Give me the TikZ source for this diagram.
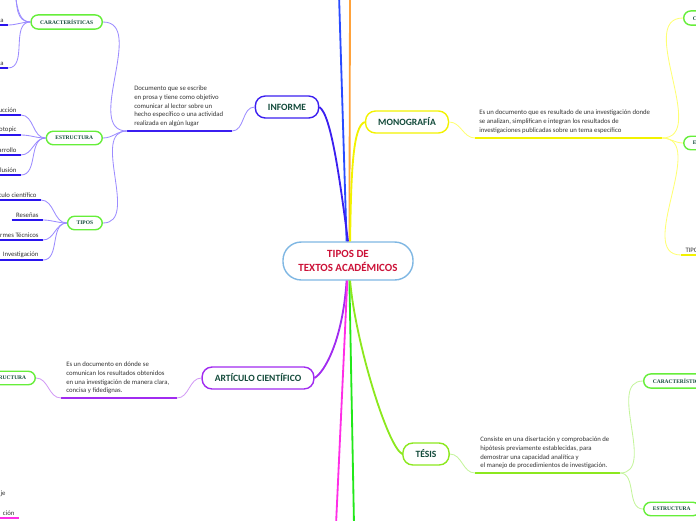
\documentclass[tikz,border=0pt]{standalone}
\usepackage{fontspec}
\setmainfont{Carlito}
\newfontfamily\subfont{Liberation Serif}
\usetikzlibrary{positioning}
\definecolor{infc}{HTML}{3B1FF0}
\definecolor{infl}{HTML}{9C8CFF}
\definecolor{leafc}{HTML}{2A14EE}
\definecolor{monoc}{HTML}{F2F200}
\definecolor{monol}{HTML}{FFFF73}
\definecolor{artc}{HTML}{A12BF0}
\definecolor{artl}{HTML}{D39CF5}
\definecolor{tesc}{HTML}{8CE81E}
\definecolor{tesl}{HTML}{C4F49C}
\definecolor{bluec}{HTML}{2A4BFF}
\definecolor{orac}{HTML}{FFA23A}
\definecolor{magc}{HTML}{FF2EE6}
\definecolor{grnc}{HTML}{22E81A}
\definecolor{subc}{HTML}{66EE3A}
\definecolor{rootc}{HTML}{7FB7E3}
\definecolor{roott}{HTML}{CC1238}
\definecolor{headt}{HTML}{124A3A}
\definecolor{bodyt}{HTML}{333333}

\begin{document}
\begin{tikzpicture}[x=0.025cm,y=-0.025cm,
  root/.style={draw=rootc,line width=1pt,fill=white,rounded corners=13pt,align=center,
    text=roott,font=\fontsize{7.8}{10}\selectfont\bfseries,inner xsep=11pt,minimum height=27pt},
  head/.style={draw=#1,line width=1pt,fill=white,rounded corners=7pt,text=headt,
    font=\fontsize{6.8}{8}\selectfont\bfseries,inner xsep=9pt,minimum height=15.6pt},
  sub/.style={draw=subc,line width=1pt,fill=white,rounded corners=5pt,text=headt,
    font=\subfont\bfseries\fontsize{3.9}{5}\selectfont,inner xsep=6.5pt,minimum height=9.6pt},
  desc/.style={anchor=north west,inner sep=0pt,align=left,text=bodyt,
    font=\fontsize{4.8}{6.1}\selectfont},
  leaf/.style={anchor=south east,inner xsep=3pt,inner ysep=1.5pt,text=bodyt,
    font=\fontsize{4.8}{6}\selectfont},
  ul/.style={line width=1.6pt,color=#1},
  br/.style={line width=1.3pt,color=#1},
  tw/.style={line width=0.6pt,color=#1}]
  \useasboundingbox (0,0) rectangle (696,520);
  \clip (0,0) rectangle (696,520);

  \node[root] (root) at (348,261) {TIPOS DE\\TEXTOS ACADÉMICOS};
  \node[head=infc] (inf) at (287,107) {INFORME};
  \node[head=monoc] (mono) at (407,122) {MONOGRAFÍA};
  \node[head=artc] (art) at (258,378) {ARTÍCULO CIENTÍFICO};
  \node[head=tesc] (tes) at (426,454) {TÉSIS};

  \coordinate (upb) at (339,-5);
  \coordinate (upo) at (350,-5);
  \coordinate (dnm) at (336,525);
  \coordinate (dng) at (354,525);
  \draw[br=bluec] ([xshift=-1pt]root.north) -- (upb);
  \draw[br=orac] ([xshift=1pt]root.north) -- (upo);
  \draw[br=infc] (root.north) .. controls +(-8,-60) and +(12,8) .. (inf.east);
  \draw[br=monoc] ([xshift=1.5pt]root.north) .. controls +(1,-70) and +(-12,4) .. (mono.west);
  \draw[br=artc] ([xshift=-1pt]root.south) .. controls +(-4,60) and +(10,-6) .. (art.east);
  \draw[br=magc] ([xshift=-0.5pt]root.south) -- (dnm);
  \draw[br=grnc] ([xshift=1pt]root.south) -- (dng);
  \draw[br=tesc] ([xshift=1.5pt]root.south) .. controls +(5,60) and +(-15,-8) .. (tes.west);

  \node[desc] (infd) at (134,86) {Documento que se escribe\\en prosa y tiene como objetivo\\comunicar al lector sobre un\\hecho específico o una actividad\\realizada en algún lugar};
  \coordinate (infa) at (127,131);
  \coordinate (infb) at (232,131);
  \draw[ul=infc] (infa) -- (infb);
  \draw[tw=infl] (infb) to[out=0,in=180] (inf.west);
  \node[sub,anchor=east] (icar) at (103,22) {CARACTERÍSTICAS};
  \node[sub,anchor=east] (iest) at (103,138) {ESTRUCTURA};
  \node[sub,anchor=east] (itip) at (103,223) {TIPOS};
  \foreach \n in {icar,iest,itip}
    \draw[tw=infl] (infa) to[out=180,in=0] (\n.east);

  \coordinate (ic1) at (2,-20);
  \coordinate (ic2) at (2,-45);
  \draw[tw=infl] (icar.west) to[out=180,in=0] (ic1);
  \draw[tw=infl] (icar.west) to[out=180,in=0] (ic2);
  \foreach \y [count=\i from 3] in {25,68} {
    \node[leaf] (ic\i) at (8,\y) {a};
    \draw[ul=leafc] (ic\i.south west) -- (ic\i.south east);
    \draw[tw=infl] (icar.west) to[out=180,in=0] (ic\i.south east);
  }
  \foreach \t/\y [count=\i] in {Introducción/115,otopic/135,Desarrollo/155,Conclusión/175} {
    \node[leaf] (ie\i) at (21,\y) {\t};
    \draw[ul=leafc] (ie\i.south west) -- (ie\i.south east);
    \draw[tw=infl] (iest.west) to[out=180,in=0] (ie\i.south east);
  }
  \foreach \t/\x/\y [count=\i] in {Artículo científico/41/200,Reseñas/43/220,Informes Técnicos/43/240,Investigación/43/260} {
    \node[leaf] (it\i) at (\x,\y) {\t};
    \draw[ul=leafc] (it\i.south west) -- (it\i.south east);
    \draw[tw=infl] (itip.west) to[out=180,in=0] (it\i.south east);
  }

  \node[desc] (monod) at (479,110) {Es un documento que es resultado de una investigación donde\\se analizan, simplifican e integran los resultados de\\investigaciones publicadas sobre un tema específico};
  \coordinate (mona) at (475,138);
  \coordinate (monb) at (662,138);
  \draw[ul=monoc] (mona) -- (monb);
  \draw[tw=monol] (mono.east) to[out=0,in=180] (mona);
  \node[sub,anchor=west] (mcar) at (683,18) {CARACTERÍSTICAS};
  \node[sub,anchor=west] (mest) at (683,143) {ESTRUCTURA};
  \node[leaf,anchor=south west] (mtip) at (681,255) {TIPOS};
  \draw[ul=monoc] (mtip.south west) -- (mtip.south east);
  \draw[tw=monol] (monb) to[out=0,in=180] (mcar.west);
  \draw[tw=monol] (monb) to[out=0,in=180] (mest.west);
  \draw[tw=monol] (monb) to[out=0,in=180] (mtip.south west);

  \node[desc] (artd) at (66,362) {Es un documento en dónde se\\comunican los resultados obtenidos\\en una investigación de manera clara,\\concisa y fidedignas.};
  \coordinate (arta) at (61,398);
  \coordinate (artb) at (177,398);
  \draw[ul=artc] (arta) -- (artb);
  \draw[tw=artl] (art.west) to[out=180,in=0] (artb);
  \node[sub,anchor=east] (aest) at (36,378) {ESTRUCTURA};
  \draw[tw=artl] (arta) to[out=180,in=0] (aest.east);

  \node[leaf] (mje) at (10,499) {je};
  \node[leaf] (mcion) at (19,518) {ción};
  \draw[ul=magc] (mcion.south west) -- (mcion.south east);

  \node[desc] (tesd) at (480,437) {Consiste en una disertación y comprobación de\\hipótesis previamente establecidas, para\\demostrar una capacidad analítica y\\el manejo de procedimientos de investigación.};
  \coordinate (tesa) at (475,473);
  \coordinate (tesb) at (620,473);
  \draw[ul=tesc] (tesa) -- (tesb);
  \draw[tw=tesl] (tes.east) to[out=0,in=180] (tesa);
  \node[sub,anchor=west] (tcar) at (643,381) {CARACTERÍSTICAS};
  \node[sub,anchor=west] (test) at (643,509) {ESTRUCTURA};
  \draw[tw=tesl] (tesb) to[out=0,in=180] (tcar.west);
  \draw[tw=tesl] (tesb) to[out=0,in=180] (test.west);
\end{tikzpicture}
\end{document}
